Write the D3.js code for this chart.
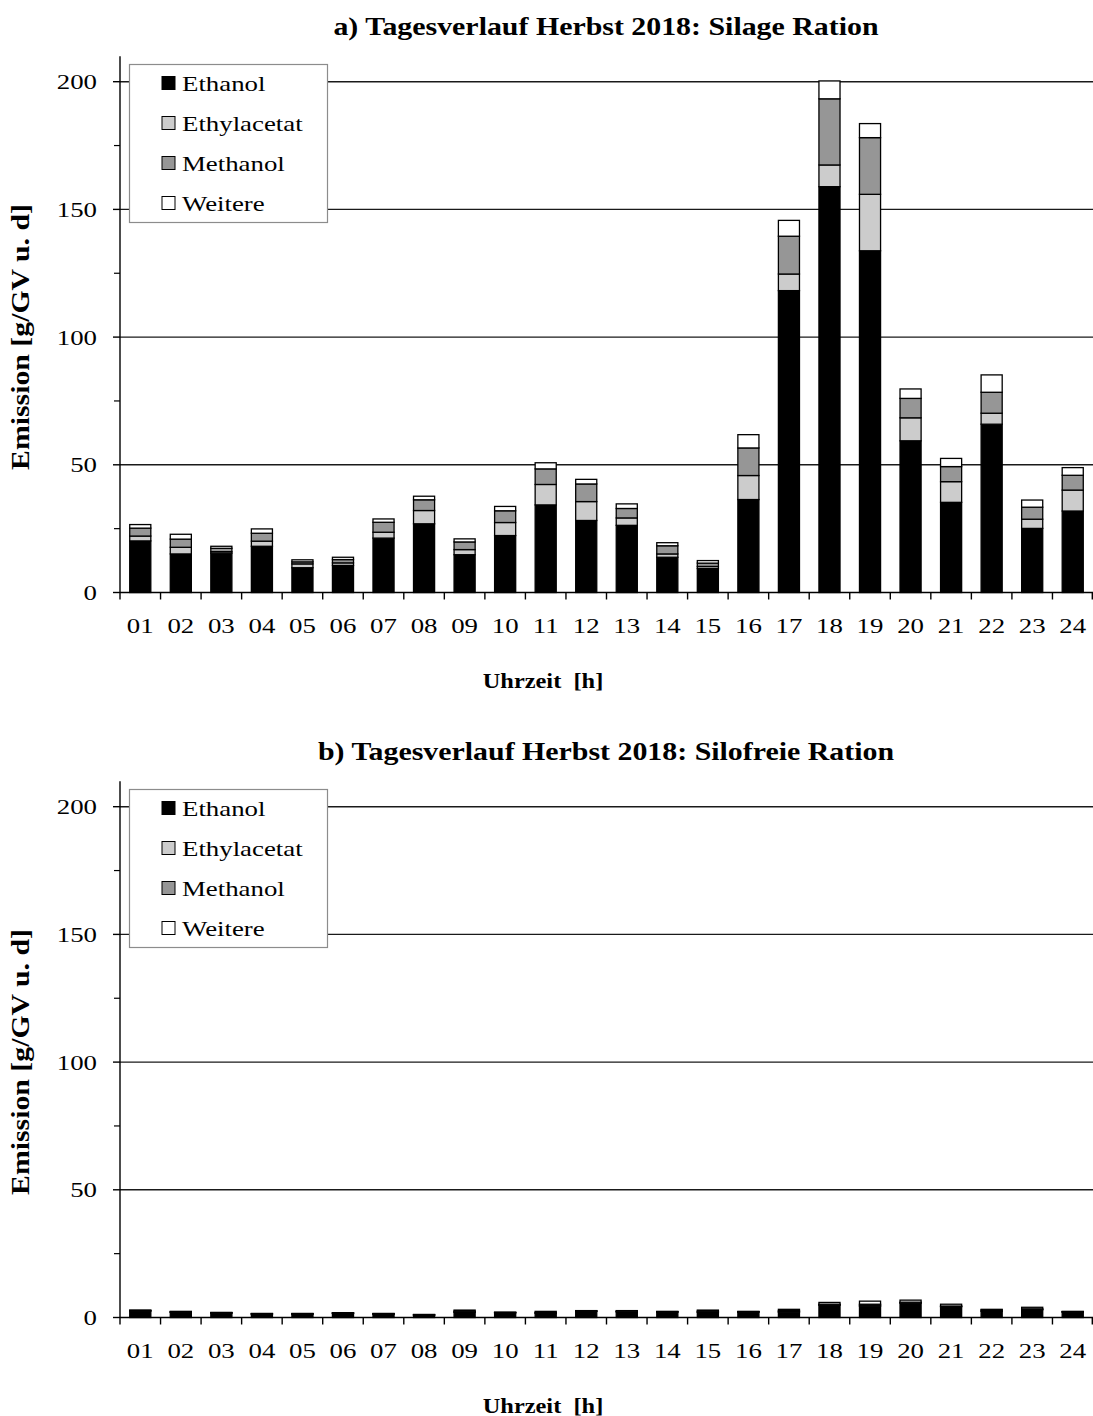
<!DOCTYPE html>
<html>
<head>
<meta charset="utf-8">
<script src="https://cdn.jsdelivr.net/npm/d3@7"></script>
<style>
  body { margin: 0; background: #fff; }
  svg { display: block; }
  text { font-family: "Liberation Serif", "Times New Roman", serif; fill: #000; }
</style>
</head>
<body>
<svg id="chart" width="1093" height="1416"></svg>
<script>
// Hours of the day (x categories)
const hours = ["01","02","03","04","05","06","07","08","09","10","11","12",
               "13","14","15","16","17","18","19","20","21","22","23","24"];

// Stacked components
const components = ["Ethanol", "Ethylacetat", "Methanol", "Weitere"];
const componentColors = ["#000000", "#cccccc", "#969696", "#ffffff"];

// a) Silage ration, emission in g/GV u. d
const silageEthanol     = [20.2,15.1,15.4,18.1, 9.7,10.6,21.3,26.9,14.8,22.3,34.3,28.2,26.3,13.8, 9.4,36.4,118.2,158.9,133.8,59.4,35.3,65.9,25.1,31.9];
const silageEthylacetat = [ 1.9, 2.6, 0.6, 2.0, 1.5, 1.0, 2.3, 5.2, 2.0, 5.1, 8.0, 7.4, 2.9, 1.3, 0.8, 9.4,  6.5,  8.5, 22.1, 9.0, 8.1, 4.3, 3.6, 8.2];
const silageMethanol    = [ 3.1, 3.2, 1.3, 3.1, 0.8, 1.3, 3.9, 4.2, 3.0, 4.6, 6.1, 6.9, 3.7, 3.2, 1.3,10.8, 14.8, 25.9, 22.2, 7.6, 5.9, 8.2, 4.7, 5.8];
const silageWeitere     = [ 1.4, 1.9, 0.8, 1.7, 0.8, 0.9, 1.3, 1.4, 1.2, 1.7, 2.4, 1.8, 1.8, 1.2, 1.0, 5.2,  6.2,  7.0,  5.5, 3.7, 3.2, 6.8, 2.8, 3.0];

// b) Silage-free ration
const freeEthanol     = [2.5,2.0,1.7,1.3,1.3,1.6,1.3,0.9,2.0,1.8,1.6,2.4,2.2,2.1,2.0,2.1,2.1,4.8,4.4,5.6,4.2,2.4,3.0,2.1];
const freeEthylacetat = [0.1,0.1,0.1,0.1,0.1,0.1,0.1,0.1,0.2,0.1,0.2,0.1,0.1,0.1,0.2,0.1,0.2,0.2,0.4,0.2,0.2,0.2,0.2,0.1];
const freeMethanol    = [0.2,0.2,0.1,0.1,0.1,0.1,0.1,0.1,0.3,0.1,0.2,0.1,0.2,0.1,0.3,0.1,0.4,0.2,0.4,0.2,0.1,0.4,0.2,0.1];
const freeWeitere     = [0.1,0.1,0.1,0.1,0.1,0.1,0.1,0.1,0.4,0.1,0.4,0.1,0.2,0.1,0.4,0.1,0.5,0.7,1.2,0.8,0.7,0.2,0.6,0.1];

const yMajorTicks = [0, 50, 100, 150, 200];
const yMinorTicks = [25, 75, 125, 175];
const yMax = 210;

// Serif type in this figure is set slightly wide
const WIDE = 1.22;

const svg = d3.select("#chart");

// Places a text at (x, y) with the wide glyph proportions
function wideText(sel, x, y) {
  return sel.attr("x", 0).attr("y", 0)
    .attr("transform", (d, i) => {
      const px = typeof x === "function" ? x(d, i) : x;
      const py = typeof y === "function" ? y(d, i) : y;
      return `translate(${px},${py}) scale(${WIDE},1)`;
    });
}

function drawPanel(offsetY, title, series) {
  const left = 120, right = 1093;
  const y0 = offsetY + 592.5, yTop = y0 - yMax * 2.554;

  const g = svg.append("g");

  const x = d3.scaleBand().domain(hours).range([left, right]).paddingInner(0.48).paddingOuter(0.24);
  const xEdges = d3.scaleBand().domain(hours).range([left, right]).padding(0);
  const y = d3.scaleLinear().domain([0, yMax]).range([y0, yTop]);

  const rows = hours.map((h, i) => {
    const r = { hour: h };
    components.forEach((c, k) => { r[c] = series[k][i]; });
    return r;
  });
  const stacked = d3.stack().keys(components)(rows);

  // Gridlines
  g.append("g").selectAll("line").data(yMajorTicks.filter(d => d > 0)).join("line")
    .attr("x1", left).attr("x2", right)
    .attr("y1", d => y(d)).attr("y2", d => y(d))
    .attr("stroke", "#1a1a1a").attr("stroke-width", 1.4);

  // Bars
  g.append("g").selectAll("g").data(stacked).join("g")
    .attr("fill", (d, i) => componentColors[i])
    .selectAll("rect").data(d => d).join("rect")
    .attr("x", d => x(d.data.hour))
    .attr("width", x.bandwidth())
    .attr("y", d => y(d[1]))
    .attr("height", d => Math.max(0, y(d[0]) - y(d[1])))
    .attr("stroke", "#000").attr("stroke-width", 1.3);

  // Y axis
  g.append("line").attr("x1", left).attr("x2", left).attr("y1", yTop).attr("y2", y0)
    .attr("stroke", "#000").attr("stroke-width", 1.4);
  g.append("g").selectAll("line").data(yMajorTicks).join("line")
    .attr("x1", left - 7).attr("x2", left).attr("y1", d => y(d)).attr("y2", d => y(d))
    .attr("stroke", "#000").attr("stroke-width", 1.4);
  g.append("g").selectAll("line").data(yMinorTicks).join("line")
    .attr("x1", left - 6).attr("x2", left).attr("y1", d => y(d)).attr("y2", d => y(d))
    .attr("stroke", "#000").attr("stroke-width", 1.2);
  wideText(g.append("g").selectAll("text").data(yMajorTicks).join("text"), 97, d => y(d) + 7.5)
    .attr("text-anchor", "end").attr("font-size", 22)
    .text(d => d);

  // X axis
  g.append("line").attr("x1", left).attr("x2", right).attr("y1", y0).attr("y2", y0)
    .attr("stroke", "#000").attr("stroke-width", 1.4);
  const edges = hours.map(h => xEdges(h)).concat([right - 0.7]);
  g.append("g").selectAll("line").data(edges).join("line")
    .attr("x1", d => d).attr("x2", d => d).attr("y1", y0).attr("y2", y0 + 7)
    .attr("stroke", "#000").attr("stroke-width", 1.4);
  wideText(g.append("g").selectAll("text").data(hours).join("text"),
      d => x(d) + x.bandwidth() / 2, y0 + 40)
    .attr("text-anchor", "middle").attr("font-size", 22)
    .text(d => d);

  // Titles
  wideText(g.append("text"), 606, offsetY + 35)
    .attr("text-anchor", "middle").attr("font-size", 24.5).attr("font-weight", "bold")
    .text(title);
  wideText(g.append("text"), 543, y0 + 95)
    .attr("text-anchor", "middle").attr("font-size", 20).attr("font-weight", "bold")
    .attr("xml:space", "preserve")
    .text("Uhrzeit  [h]");
  g.append("text")
    .attr("transform", `translate(29,${offsetY + 337}) scale(${WIDE},1) rotate(-90)`)
    .attr("text-anchor", "middle").attr("font-size", 20).attr("font-weight", "bold")
    .attr("textLength", 266).attr("lengthAdjust", "spacingAndGlyphs")
    .text("Emission [g/GV u. d]");

  // Legend
  const lg = g.append("g");
  lg.append("rect").attr("x", 129.5).attr("y", offsetY + 64.5).attr("width", 198).attr("height", 158)
    .attr("fill", "#fff").attr("stroke", "#8c8c8c").attr("stroke-width", 1.2);
  const item = lg.selectAll("g").data(components).join("g")
    .attr("transform", (d, i) => `translate(0,${offsetY + 83 + i * 40})`);
  item.append("rect").attr("x", 162).attr("y", -6.5).attr("width", 13).attr("height", 13)
    .attr("fill", (d, i) => componentColors[i]).attr("stroke", "#000").attr("stroke-width", 1);
  wideText(item.append("text"), 182, 7.5).attr("font-size", 22).text(d => d);
}

drawPanel(0, "a) Tagesverlauf Herbst 2018: Silage Ration",
  [silageEthanol, silageEthylacetat, silageMethanol, silageWeitere]);
drawPanel(725, "b) Tagesverlauf Herbst 2018: Silofreie Ration",
  [freeEthanol, freeEthylacetat, freeMethanol, freeWeitere]);
</script>
</body>
</html>
